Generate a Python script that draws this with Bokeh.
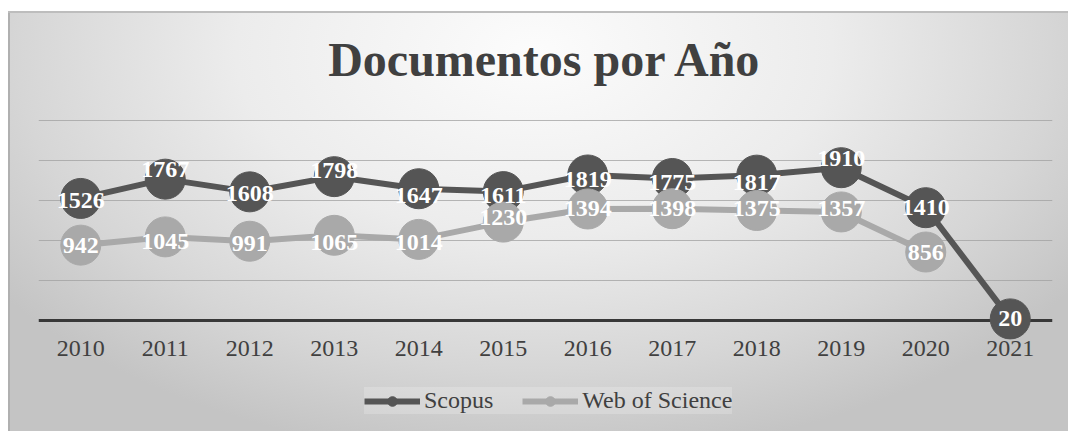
from bokeh.plotting import figure
from bokeh.models import (ColumnDataSource, FactorRange, Range1d, FixedTicker,
                          Span, Legend, LegendItem, Label)
from bokeh.core.properties import value
from bokeh.embed import file_html
from bokeh.resources import INLINE

# ---- data ----
years = ["2010", "2011", "2012", "2013", "2014", "2015",
         "2016", "2017", "2018", "2019", "2020", "2021"]
scopus = [1526, 1767, 1608, 1798, 1647, 1611, 1819, 1775, 1817, 1910, 1410, 20]
wos_years = years[:11]
wos = [942, 1045, 991, 1065, 1014, 1230, 1394, 1398, 1375, 1357, 856]
grid_ticks = [500, 1000, 1500, 2000, 2500]
title_text = "Documentos por Año"

# label nudges (pixels, positive = down)
scopus_dy = [2, -10, 2, -6, 7, 4, 5, 4, 7, -9, 0, 0]
wos_dy = [0, 5, 2, 7, 3, -5, 0, 0, -2, -3, 0]

SERIF = "Liberation Serif"
DARK = "#555555"
LIGHT = "#a9a9a9"
TXT = "#404040"
VPP = 12.5  # data units per pixel

W, H = 1068, 431
ZERO_Y = 320  # pixel row of the zero line

p = figure(width=W, height=H,
           x_range=FactorRange(*years),
           y_range=Range1d(-(H - ZERO_Y) * VPP, ZERO_Y * VPP),
           output_backend="svg", toolbar_location=None,
           min_border_left=38, min_border_right=16,
           min_border_top=0, min_border_bottom=0)
p.title.visible = False
p.border_fill_color = None
p.background_fill_color = None
p.outline_line_color = None
p.styles = {"background": (
    "linear-gradient(#ffffff,#ffffff) 0 0 / 100% 11px no-repeat, "
    "linear-gradient(#ffffff,#ffffff) 0 0 / 8px 100% no-repeat, "
    "linear-gradient(#bdbdbd,#bdbdbd) 8px 11px / 100% 2px no-repeat, "
    "linear-gradient(#b0b0b0,#b0b0b0) 8px 11px / 2px 100% no-repeat, "
    "radial-gradient(ellipse 62% 95% at 50% 12%, #fcfcfc 0%, #ececec 45%, #d6d6d6 78%, #c4c4c4 100%)")}

p.xaxis.visible = False
p.yaxis.visible = False
p.xgrid.visible = False
p.ygrid.ticker = FixedTicker(ticks=grid_ticks)
p.ygrid.grid_line_color = "#a0a0a0"
p.ygrid.grid_line_alpha = 0.75
p.ygrid.grid_line_width = 1

p.add_layout(Span(location=0, dimension="width", line_color="#383838",
                  line_width=3, level="underlay"))

# category (year) labels under the zero line
cat_src = ColumnDataSource(dict(x=years, y=[-28 * VPP] * len(years), lab=years))
p.text("x", "y", text="lab", source=cat_src,
       text_font=value(SERIF), text_font_size="24px", text_color=TXT,
       text_align="center", text_baseline="middle")

s_src = ColumnDataSource(dict(x=years, y=scopus, lab=[str(v) for v in scopus], dy=scopus_dy))
w_src = ColumnDataSource(dict(x=wos_years, y=wos, lab=[str(v) for v in wos], dy=wos_dy))

s_line = p.line("x", "y", source=s_src, line_color=DARK, line_width=6)
s_dot = p.scatter("x", "y", source=s_src, size=40, fill_color=DARK, line_color=DARK)
w_line = p.line("x", "y", source=w_src, line_color=LIGHT, line_width=6)
w_dot = p.scatter("x", "y", source=w_src, size=40, fill_color=LIGHT, line_color=LIGHT)

for src in (s_src, w_src):
    p.text("x", "y", text="lab", source=src, y_offset="dy",
           text_font=value(SERIF), text_font_style="bold", text_font_size="24px",
           text_color="white", text_align="center", text_baseline="middle")

p.add_layout(Label(x=6.0, y=261 * VPP, text=title_text, text_font=SERIF,
                   text_font_style="bold", text_font_size="48px",
                   text_color=TXT, text_align="center", text_baseline="alphabetic"))

legend = Legend(items=[LegendItem(label="Scopus", renderers=[s_line, s_dot]),
                       LegendItem(label="Web of Science", renderers=[w_line, w_dot])],
                orientation="horizontal", location=(326, 17),
                glyph_width=56, glyph_height=24, label_standoff=4, spacing=29,
                padding=6, margin=0,
                label_text_font=SERIF, label_text_font_size="24px",
                label_text_color=TXT,
                background_fill_color="white", background_fill_alpha=0.2,
                border_line_color=None)
p.add_layout(legend)

open("out.html", "w").write(file_html(p, INLINE))
